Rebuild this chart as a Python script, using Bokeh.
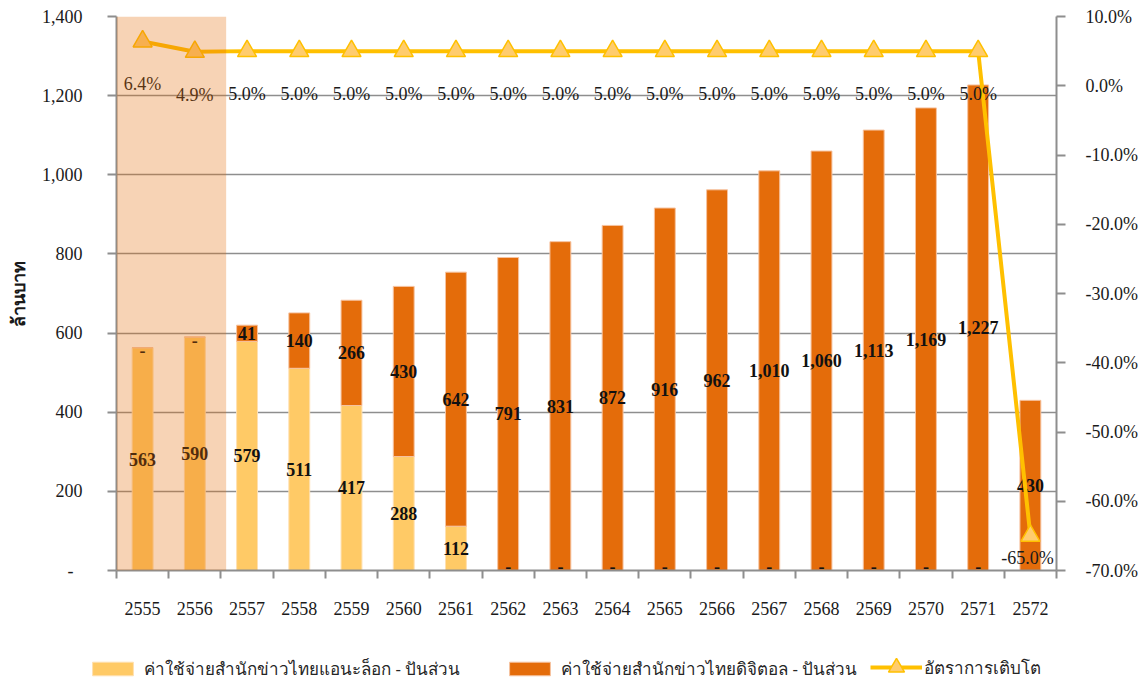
from bokeh.plotting import figure
from bokeh.layouts import column, row
from bokeh.models import (Range1d, LinearAxis, FixedTicker, BoxAnnotation, Legend, LegendItem,
                          NumeralTickFormatter, PrintfTickFormatter)
from bokeh.embed import file_html
from bokeh.resources import INLINE
from bokeh.core.properties import value

# ---------------- data ----------------
years = ["2555", "2556", "2557", "2558", "2559", "2560", "2561", "2562", "2563",
         "2564", "2565", "2566", "2567", "2568", "2569", "2570", "2571", "2572"]
analog = [563, 590, 579, 511, 417, 288, 112, 0, 0, 0, 0, 0, 0, 0, 0, 0, 0, None]
digital = [0, 0, 41, 140, 266, 430, 642, 791, 831, 872, 916, 962, 1010, 1060, 1113, 1169, 1227, 430]
growth = [6.4, 4.9, 5.0, 5.0, 5.0, 5.0, 5.0, 5.0, 5.0, 5.0, 5.0, 5.0, 5.0, 5.0, 5.0, 5.0, 5.0, -65.0]
highlight_years = ["2555", "2556"]
left_ticks = [0, 200, 400, 600, 800, 1000, 1200, 1400]
right_ticks = [-70, -60, -50, -40, -30, -20, -10, 0, 10]

name_analog = "ค่าใช้จ่ายสำนักข่าวไทยแอนะล็อก - ปันส่วน"
name_digital = "ค่าใช้จ่ายสำนักข่าวไทยดิจิตอล - ปันส่วน"
name_growth = "อัตราการเติบโต"
y_title = "ล้านบาท"

# ---------------- styles ----------------
C_ANALOG = "#FFCA66"
C_DIGITAL = "#E46C0A"
C_LINE = "#FFC000"
C_MARK = "#FFCC6E"
C_GRID = "#8E8E8E"
SERIF = "Liberation Serif"
THAI = "Noto Sans"
W = 1147
H_MAIN = 630
H_LEG = 52

n = len(years)
xc = [i + 0.5 for i in range(n)]
a0 = [v if v is not None else 0 for v in analog]
dtop = [a + d for a, d in zip(a0, digital)]

p = figure(width=W, height=H_MAIN, output_backend="svg", toolbar_location=None,
           x_range=Range1d(0, n), y_range=Range1d(left_ticks[0], left_ticks[-1]),
           min_border_left=116, min_border_right=91, min_border_top=16, min_border_bottom=60)
p.extra_y_ranges = {"g": Range1d(right_ticks[0], right_ticks[-1])}
p.outline_line_alpha = 0
p.background_fill_color = "white"
p.border_fill_color = "white"

# grid
p.xgrid.visible = False
p.ygrid.ticker = FixedTicker(ticks=left_ticks)
p.ygrid.grid_line_color = C_GRID
p.ygrid.grid_line_width = 1.6

# bottom axis
xa = p.xaxis[0]
xa.ticker = FixedTicker(ticks=xc, minor_ticks=list(range(n + 1)))
xa.major_label_overrides = {x: y for x, y in zip(xc, years)}
xa.major_tick_line_alpha = 0
xa.major_tick_out = 0
xa.major_tick_in = 0
xa.minor_tick_out = 8
xa.minor_tick_in = 0
xa.minor_tick_line_color = C_GRID
xa.minor_tick_line_width = 2
xa.axis_line_color = C_GRID
xa.axis_line_width = 2
xa.major_label_standoff = 23
xa.major_label_text_font = SERIF
xa.major_label_text_font_size = "18px"
xa.major_label_text_color = "#1a1a1a"

# left axis
ya = p.yaxis[0]
ya.ticker = FixedTicker(ticks=left_ticks)
ya.formatter = NumeralTickFormatter(format="0,0")
ya.major_label_overrides = {0: "-\u00a0\u00a0"}
ya.major_tick_out = 9
ya.major_tick_in = 0
ya.major_tick_line_color = C_GRID
ya.major_tick_line_width = 2
ya.minor_tick_line_alpha = 0
ya.axis_line_color = C_GRID
ya.axis_line_width = 2
ya.major_label_standoff = 25
ya.major_label_text_font = SERIF
ya.major_label_text_font_size = "18px"
ya.major_label_text_color = "#1a1a1a"
ya.axis_label = y_title
ya.axis_label_text_font = THAI
ya.axis_label_text_font_style = "bold"
ya.axis_label_text_font_size = "18px"
ya.axis_label_text_color = "#1a1a1a"
ya.axis_label_standoff = 9

# right axis
ra = LinearAxis(y_range_name="g", ticker=FixedTicker(ticks=right_ticks),
                formatter=PrintfTickFormatter(format="%.1f%%"))
ra.major_tick_out = 9
ra.major_tick_in = 0
ra.major_tick_line_color = C_GRID
ra.major_tick_line_width = 2
ra.minor_tick_line_alpha = 0
ra.axis_line_color = C_GRID
ra.axis_line_width = 2
ra.major_label_standoff = 20
ra.major_label_text_font = SERIF
ra.major_label_text_font_size = "18px"
ra.major_label_text_color = "#1a1a1a"
p.add_layout(ra, "right")

# bars
bar_an = dict(fill_color=C_ANALOG, line_color="#FFE0B0", line_width=1)
bar_dg = dict(fill_color=C_DIGITAL, line_color="#F6C3A0", line_width=1)
p.vbar(x=xc, top=a0, bottom=0, width=0.4, **bar_an)
p.vbar(x=xc, top=dtop, bottom=a0, width=0.4, **bar_dg)

# bar labels
num_x, num_y, num_t = [], [], []
dash_x, dash_y, dash_off = [], [], []
for i in range(n):
    segs = []
    if analog[i] is not None:
        segs.append((analog[i], a0[i] / 2))
    segs.append((digital[i], a0[i] + digital[i] / 2))
    for v, ymid in segs:
        if v:
            num_x.append(xc[i]); num_y.append(ymid); num_t.append(f"{v:,}")
        else:
            dash_x.append(xc[i]); dash_y.append(ymid)
            dash_off.append(-4 if ymid == 0 else 3)   # keep dashes on the axis inside the frame
lab_style = dict(text_align="center", text_baseline="middle", text_font=value(SERIF),
                 text_font_style="bold", text_font_size="18px", text_color="#111111")
p.text(x=num_x, y=num_y, text=num_t, **lab_style)
p.text(x=dash_x, y=dash_y, text=["-"] * len(dash_x), y_offset=dash_off, **lab_style)

# growth line
line_style = dict(line_color=C_LINE, line_width=4)
mark_style = dict(marker="triangle", fill_color=C_MARK, line_color=C_LINE, line_width=1.5)
p.line(x=xc, y=growth, y_range_name="g", **line_style)
p.scatter(x=xc, y=growth, y_range_name="g", size=19, **mark_style)
gl = [f"{g:.1f}%" for g in growth]
p.text(x=xc[:-1], y=growth[:-1], text=gl[:-1], y_range_name="g", y_offset=43,
       text_align="center", text_baseline="middle", text_font=value(SERIF),
       text_font_size="18px", text_color="#1a1a1a")
p.text(x=xc[-1:], y=growth[-1:], text=gl[-1:], y_range_name="g", x_offset=-3, y_offset=22,
       text_align="center", text_baseline="middle", text_font=value(SERIF),
       text_font_size="18px", text_color="#1a1a1a")

# highlighted (actual) years
hi_right = years.index(highlight_years[-1]) + 1 + 0.1
p.add_layout(BoxAnnotation(left=0, right=hi_right, fill_color="#E36C0A", fill_alpha=0.3,
                           line_alpha=0, level="overlay"))

# ---------------- legend strip ----------------
# same series drawn into a strip whose view lies above the data, so only the legend shows
lf = figure(width=W, height=H_LEG, output_backend="svg", toolbar_location=None,
            x_range=Range1d(0, n), y_range=Range1d(2000, 2100),
            x_axis_type=None, y_axis_type=None, min_border=0)
lf.outline_line_alpha = 0
lf.grid.visible = False
lf.background_fill_alpha = 0
l_an = lf.vbar(x=xc, top=a0, bottom=0, width=0.4, **bar_an)
l_dg = lf.vbar(x=xc, top=dtop, bottom=a0, width=0.4, **bar_dg)
l_ln = lf.line(x=xc, y=growth, **line_style)
l_mk = lf.scatter(x=xc, y=growth, size=19, **mark_style)


def mk_legend(item, loc, gw, gh, lh, standoff):
    lg = Legend(items=[item], location=loc, orientation="horizontal",
                glyph_width=gw, glyph_height=gh, label_standoff=standoff,
                padding=0, margin=0, spacing=0, border_line_alpha=0,
                background_fill_alpha=0, label_text_font=THAI,
                label_text_font_size="17px", label_text_color="#262626",
                label_height=lh)
    lf.add_layout(lg, "center")


mk_legend(LegendItem(label=name_analog, renderers=[l_an]), (87, 0), 51, 17, 17, 6)
mk_legend(LegendItem(label=name_digital, renderers=[l_dg]), (504, 0), 51, 17, 17, 6)
mk_legend(LegendItem(label=name_growth, renderers=[l_ln, l_mk]), (870, -5), 52, 40, 40, 2)

open("out.html", "w").write(file_html(column(p, row(lf), spacing=0), INLINE))
